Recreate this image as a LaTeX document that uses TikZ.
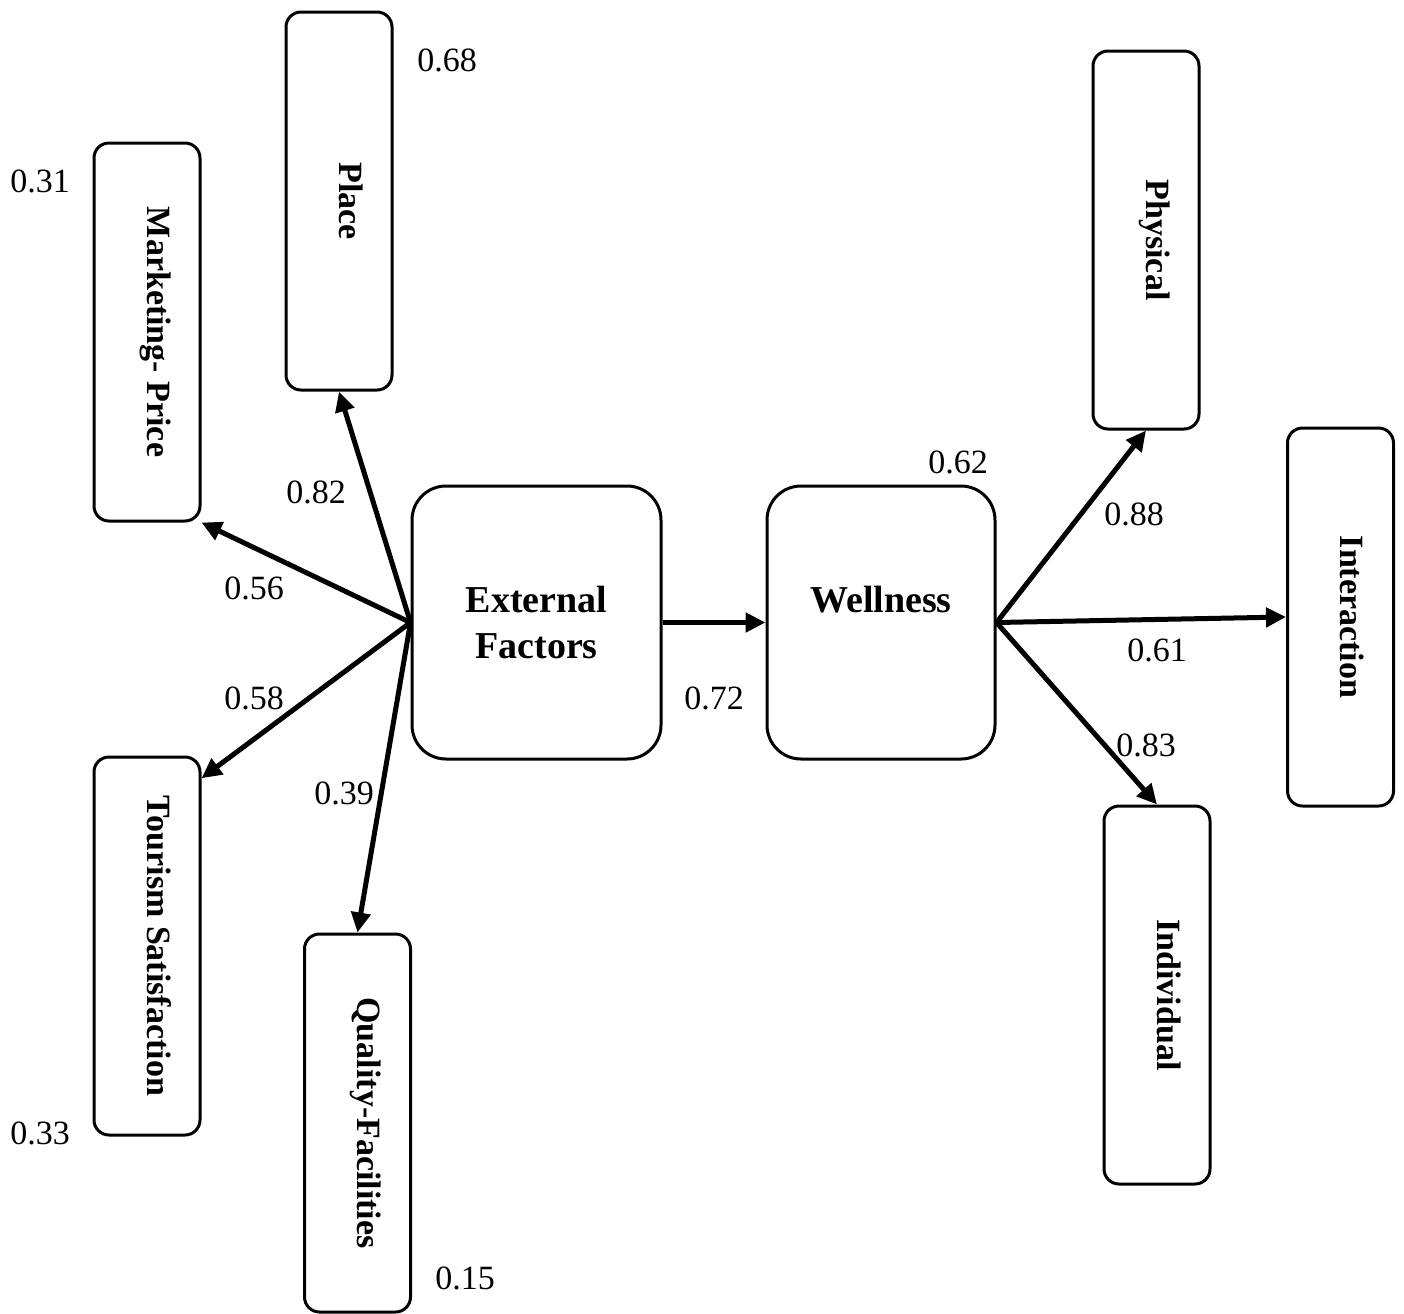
\documentclass[tikz,border=0pt]{standalone}
\usepackage{graphicx}
\usepackage{fontspec}
\setmainfont{Liberation Serif}
\usetikzlibrary{arrows.meta}

\newcommand{\vlabel}[1]{\rotatebox{-90}{\smash{#1}}}

\tikzset{
  smallbox/.style={draw, line width=1.5pt, rounded corners=7.5pt, minimum width=53pt, minimum height=189pt, inner sep=0pt, font=\fontsize{17}{20}\selectfont\bfseries},
  bigbox/.style={draw, line width=1.5pt, rounded corners=17pt, minimum height=136.5pt, inner sep=0pt, align=center, font=\fontsize{19}{23}\selectfont\bfseries},
  coef/.style={inner sep=0pt, font=\fontsize{17}{19}\selectfont},
  path/.style={line width=2.5pt, -{Triangle[length=10pt,width=9.5pt]}}
}

\begin{document}
\begin{tikzpicture}[x=0.5pt, y=-0.5pt]
\useasboundingbox (0,0) rectangle (1404,1313);

% latent variables
\node[bigbox, minimum width=124.5pt] (ext) at (536.5,622.5) {External\\Factors};
\node[bigbox, minimum width=114pt] (well) at (881,622.5) {Wellness\\\mbox{}};

% indicators of external factors
\node[smallbox] (place) at (339,201) {\vlabel{Place}};
\node[smallbox] (mkt) at (147,332) {\vlabel{Marketing- Price}};
\node[smallbox] (tour) at (147,946) {\vlabel{Tourism Satisfaction}};
\node[smallbox] (qual) at (357.5,1123) {\vlabel{Quality-Facilities}};

% indicators of wellness
\node[smallbox] (phys) at (1146,240) {\vlabel{Physical}};
\node[smallbox] (inter) at (1340.5,617) {\vlabel{Interaction}};
\node[smallbox] (indiv) at (1157,995) {\vlabel{Individual}};

% paths
\draw[path] (ext.west) -- (place.south);
\draw[path] (ext.west) -- (mkt.south east);
\draw[path] (ext.west) -- (tour.72);
\draw[path] (ext.west) -- (qual.north);
\draw[path] (ext.east) -- (well.west);
\draw[path] (well.east) -- (phys.south);
\draw[path] (well.east) -- (inter.west);
\draw[path] (well.east) -- (indiv.north);

% coefficients
\node[coef] (r068) at (447,60) {0.68};
\node[coef] (r031) at (40,181) {0.31};
\node[coef] (r082) at (316,492) {0.82};
\node[coef] (r056) at (254,588) {0.56};
\node[coef] (r058) at (254,698) {0.58};
\node[coef] (r039) at (344,793) {0.39};
\node[coef] (r033) at (40,1133) {0.33};
\node[coef] (r015) at (465,1278) {0.15};
\node[coef] (r072) at (714,698) {0.72};
\node[coef] (r062) at (958,462) {0.62};
\node[coef] (r088) at (1134,514) {0.88};
\node[coef] (r061) at (1157,650) {0.61};
\node[coef] (r083) at (1146,745) {0.83};
\end{tikzpicture}
\end{document}
